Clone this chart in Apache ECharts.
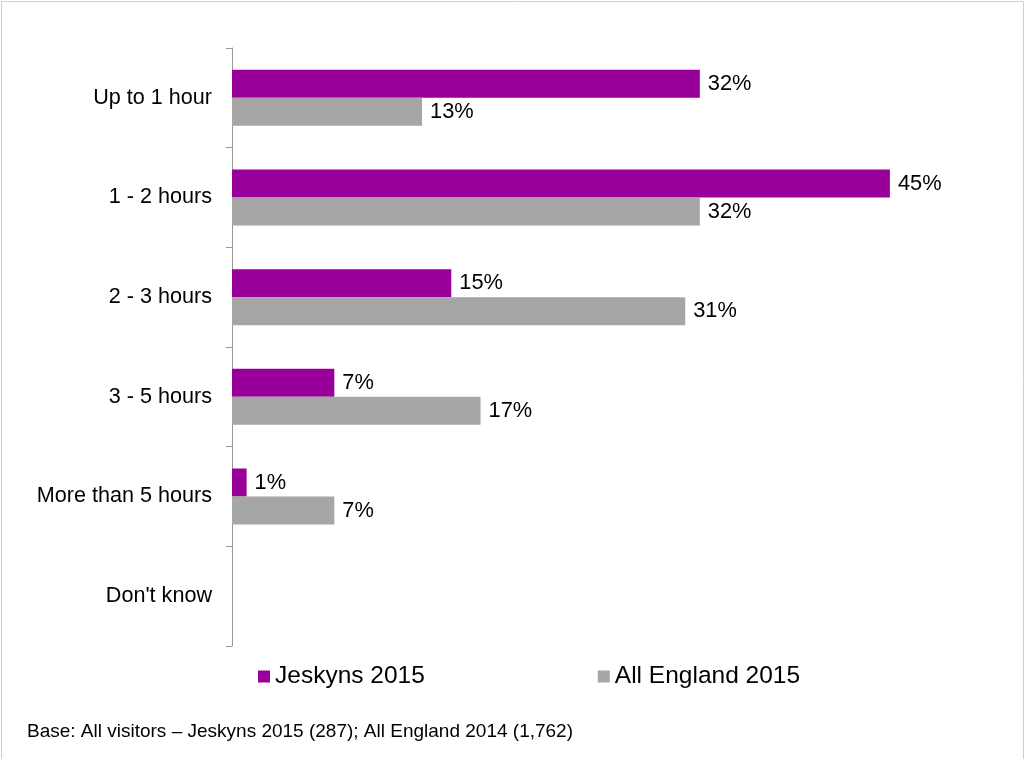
<!DOCTYPE html>
<html>
<head>
<meta charset="utf-8">
<script src="https://cdn.jsdelivr.net/npm/echarts@6/dist/echarts.min.js"></script>
<style>
  html, body { margin: 0; padding: 0; background: #fff; }
  #chart { width: 1025px; height: 759px; }
</style>
</head>
<body>
<div id="chart"></div>
<script>
// Time spent at the visit, share of visitors by duration band
const categories = ['Up to 1 hour', '1 - 2 hours', '2 - 3 hours', '3 - 5 hours', 'More than 5 hours', "Don't know"];
const seriesNames = ['Jeskyns 2015', 'All England 2015'];
const jeskyns2015 = [32, 45, 15, 7, 1, null];
const allEngland2015 = [13, 32, 31, 17, 7, null];
const footnote = 'Base: All visitors \u2013 Jeskyns 2015 (287); All England 2014 (1,762)';

const FONT = '"Liberation Sans", Arial, sans-serif';
const chart = echarts.init(document.getElementById('chart'), null, { renderer: 'canvas' });

const valueLabel = {
  show: true,
  position: 'right',
  distance: 8,
  color: '#000',
  fontFamily: FONT,
  fontSize: 21.8,
  formatter: p => (p.value == null ? '' : p.value + '%')
};

chart.setOption({
  animation: false,
  backgroundColor: '#fff',
  grid: { left: 232, right: 62, top: 48, bottom: 113, containLabel: false },
  xAxis: {
    type: 'value',
    min: 0,
    max: 50,
    show: false
  },
  yAxis: {
    type: 'category',
    data: categories,
    inverse: true,
    axisLine: { show: true, lineStyle: { color: '#999999', width: 1 } },
    axisTick: { show: true, length: 6, lineStyle: { color: '#999999' } },
    axisLabel: { margin: 20, color: '#000', fontFamily: FONT, fontSize: 21.6 },
    splitLine: { show: false }
  },
  legend: {
    data: seriesNames,
    left: 253,
    top: 659,
    itemWidth: 12,
    itemHeight: 12,
    itemGap: 173,
    icon: 'rect',
    textStyle: { color: '#000', fontFamily: FONT, fontSize: 24.5 }
  },
  series: [
    {
      name: seriesNames[0],
      type: 'bar',
      data: jeskyns2015,
      barWidth: 28,
      barGap: '0%',
      itemStyle: { color: '#990099' },
      label: valueLabel
    },
    {
      name: seriesNames[1],
      type: 'bar',
      data: allEngland2015,
      barWidth: 28,
      barGap: '0%',
      itemStyle: { color: '#a6a6a6' },
      label: valueLabel
    }
  ],
  graphic: [
    {
      type: 'rect',
      silent: true,
      shape: { x: 1.5, y: 1.5, width: 1022, height: 800 },
      style: { fill: 'none', stroke: '#cfcfcf', lineWidth: 1 }
    },
    {
      type: 'text',
      left: 27,
      top: 722,
      style: { text: footnote, fill: '#000', font: '19px ' + FONT }
    }
  ]
});
</script>
</body>
</html>
